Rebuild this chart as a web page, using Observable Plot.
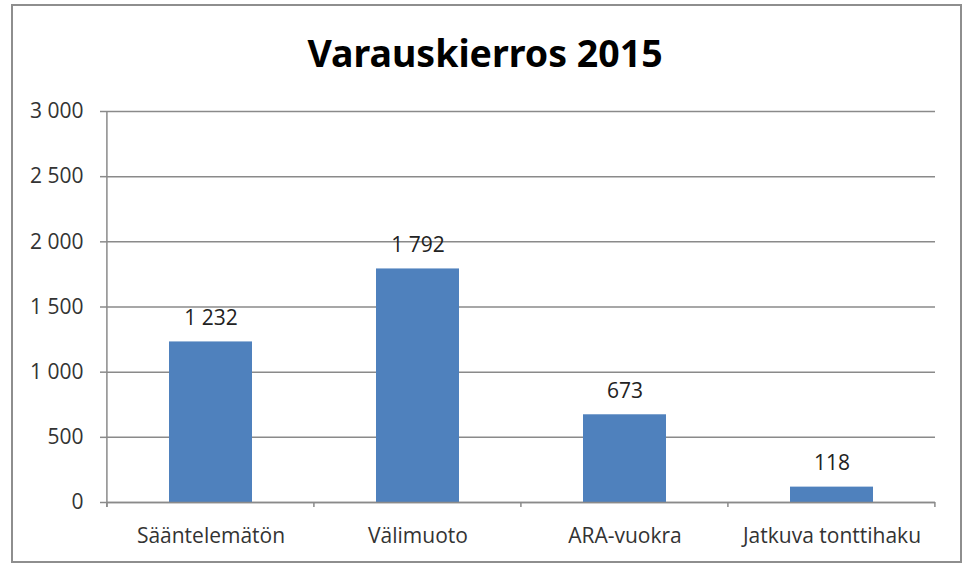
<!DOCTYPE html>
<html>
<head>
<meta charset="utf-8">
<script src="https://cdn.jsdelivr.net/npm/d3@7"></script>
<script src="https://cdn.jsdelivr.net/npm/@observablehq/plot@0.6"></script>
<style>
  html, body { margin: 0; padding: 0; background: #fff; }
  #page { position: relative; width: 967px; height: 563px; overflow: hidden; font-family: "Open Sans", "Noto Sans", sans-serif; }
  #frame { position: absolute; left: 11px; top: 4px; width: 947px; height: 555px; border: 2px solid #8e8e8e; box-sizing: content-box; }
  #title { position: absolute; left: 0; width: 970px; top: 34px; line-height: 1; text-align: center; font-family: "Noto Sans", sans-serif; font-weight: bold; font-size: 37.5px; letter-spacing: 0; color: #000; }
  #chart { position: absolute; left: 0; top: 90px; }
</style>
</head>
<body>
<div id="page">
  <div id="frame"></div>
  <div id="title">Varauskierros 2015</div>
  <div id="chart"></div>
</div>
<script>
const categories = ["Sääntelemätön", "Välimuoto", "ARA-vuokra", "Jatkuva tonttihaku"];
const values = [1232, 1792, 673, 118];
const yTicks = [0, 500, 1000, 1500, 2000, 2500, 3000];

const data = categories.map((c, i) => ({category: c, value: values[i]}));
const fmt = v => d3.format(",")(v).replace(/,/g, " ");

const plot = Plot.plot({
  width: 967,
  height: 473,
  marginTop: 21,
  marginBottom: 61,
  marginLeft: 107,
  marginRight: 32,
  style: {fontFamily: "'Open Sans', 'Noto Sans', sans-serif", fontSize: "21px", color: "#333", background: "transparent"},
  x: {domain: categories, paddingInner: 0.6, paddingOuter: 0.3, label: null},
  y: {domain: [0, 3000], label: null},
  marks: [
    Plot.gridY(yTicks, {stroke: "#8a8a8a", strokeOpacity: 1, strokeWidth: 1.5}),
    Plot.axisY(yTicks, {tickFormat: fmt, tickSize: 7, tickPadding: 17, stroke: "#8a8a8a", strokeWidth: 1.5, fontSize: 21, fill: "#333", label: null}),
    Plot.axisX({tickSize: 0, tickPadding: 26, fontSize: 21, fill: "#333", label: null}),
    Plot.barY(data, {x: "category", y: "value", fill: "#4f81bd"}),
    Plot.text(data, {x: "category", y: "value", text: d => fmt(d.value), dy: -24, fontSize: 21, fill: "#222"}),
    Plot.ruleY([0], {stroke: "#8a8a8a", strokeWidth: 1.5})
  ]
});
document.getElementById("chart").appendChild(plot);

// y-axis line and category boundary ticks computed from the scales
const xs = plot.scale("x"), ys = plot.scale("y");
const svg = d3.select(plot);
const step = xs.step;
const left = xs.apply(categories[0]) - step * 0.3;
const y0 = ys.apply(0), y1 = ys.apply(3000);
const g = svg.append("g").attr("stroke", "#8a8a8a").attr("stroke-width", 1.5);
g.append("line").attr("x1", left).attr("x2", left).attr("y1", y1).attr("y2", y0 + 5);
for (let i = 0; i <= categories.length; i++) {
  const x = left + i * step;
  g.append("line").attr("x1", x).attr("x2", x).attr("y1", y0).attr("y2", y0 + 5);
}
</script>
</body>
</html>
